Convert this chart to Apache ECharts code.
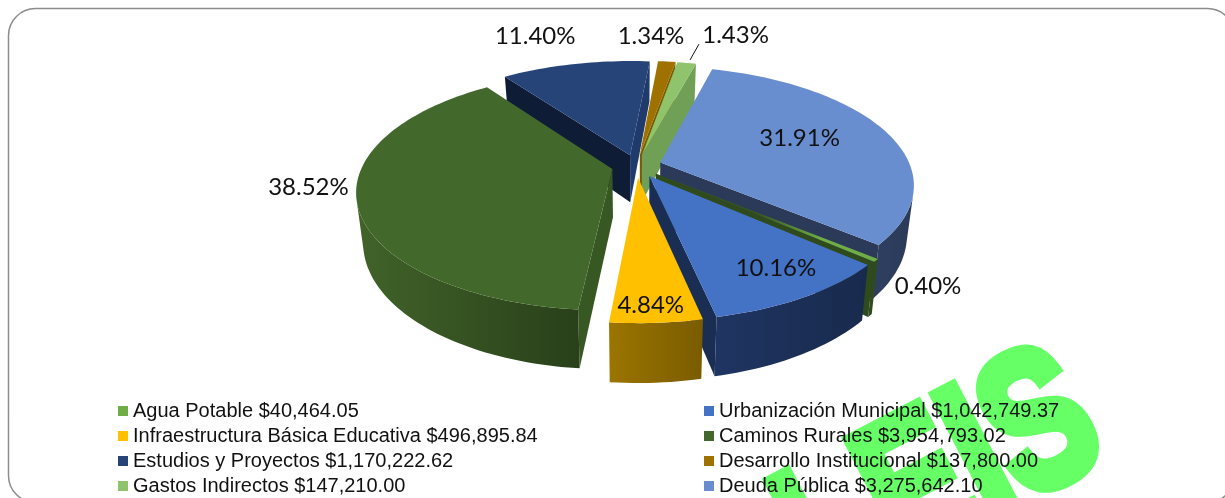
<!DOCTYPE html>
<html>
<head>
<meta charset="utf-8">
<style>html,body{margin:0;padding:0;background:#fff}#chart{width:1225px;height:498px}</style>
<script src="https://cdn.jsdelivr.net/npm/echarts@6/dist/echarts.min.js"></script>
</head>
<body>
<div id="chart"></div>
<script>
const categories = ['Agua Potable', 'Urbanización Municipal', 'Infraestructura Básica Educativa', 'Caminos Rurales',
  'Estudios y Proyectos', 'Desarrollo Institucional', 'Gastos Indirectos', 'Deuda Pública']
const amounts = [40464.05, 1042749.37, 496895.84, 3954793.02, 1170222.62, 137800.00, 147210.00, 3275642.10]
const amountLabels = ['$40,464.05', '$1,042,749.37', '$496,895.84', '$3,954,793.02', '$1,170,222.62', '$137,800.00', '$147,210.00', '$3,275,642.10']
const percentLabels = ['0.40%', '10.16%', '4.84%', '38.52%', '11.40%', '1.34%', '1.43%', '31.91%']

const legendNames = categories.map((c, i) => c + ' ' + amountLabels[i])

// styles, same order as categories
const topColors = ['#70AD47', '#4472C4', '#FFC000', '#43682B', '#264478', '#9E7100', '#8FC46C', '#698ED0']
const startWall = ['#2F4A1C', '#1A2E54', '#7A5C00', '#385823', '#0E1C36', '#7A5C00', '#5E8A44', '#2B3A58']
const endWall = ['#2F4A1C', '#1A2E54', '#8A6800', '#385823', '#1F3A6C', '#7A5C00', '#70A055', '#2B3A58']
const rimLeft = ['#2F4A1C', '#1F3562', '#9B7500', '#416329', '#1F3A6C', '#7A5C00', '#70A055', '#2F3F60']
const rimRight = ['#2F4A1C', '#182A4C', '#7A5C00', '#29401A', '#1F3A6C', '#7A5C00', '#70A055', '#2B3A58']
// label spot: distance from slice tip (1 = rim) and turn away from slice middle, degrees
const labelRadius = [1.218, 0.805, 0.897, 1.184, 1.414, 1.327, 1.425, 0.628]
const labelTurn = [1.3, -2, 0.7, 8, -4.6, -5, 7, -3.5]
// back to front
const drawOrder = [4, 5, 6, 7, 3, 0, 1, 2]

const view = { cx: 636.6, cy: 166, rx: 250, ry: 114.6, persp: 0.18, depth: 48, shrink: 0.975, explode: 0.1, startAngle: 130 }

const total = amounts.reduce((a, b) => a + b, 0)
function sliceAngles(i) {
  let before = 0
  for (let k = 0; k < i; k++) before += amounts[k]
  const a0 = view.startAngle + before / total * 360
  return [a0, a0 + amounts[i] / total * 360]
}
function dir(deg) {
  const t = deg * Math.PI / 180
  return [Math.sin(t), -Math.cos(t)]
}
function project(u, v, bottom) {
  const p = 1 / (1 - view.persp * v)
  const x = view.rx * u * p * (bottom ? view.shrink : 1)
  const y = view.ry * v * p + (bottom ? view.depth * p : 0)
  return [view.cx + x, view.cy + y]
}
function shoelace(pts) {
  let s = 0
  for (let i = 0; i < pts.length; i++) {
    const a = pts[i]
    const b = pts[(i + 1) % pts.length]
    s += a[0] * b[1] - b[0] * a[1]
  }
  return s
}
function poly(points, fill) {
  return { type: 'polygon', shape: { points: points }, style: { fill: fill, stroke: null }, silent: true }
}

function renderSlice(i) {
  const [a0, a1] = sliceAngles(i)
  const mid = (a0 + a1) / 2
  const md = dir(mid)
  const tip = [md[0] * view.explode, md[1] * view.explode]
  const at = (deg, r) => {
    const d = dir(deg)
    return [tip[0] + d[0] * r, tip[1] + d[1] * r]
  }
  const arc = []
  const n = Math.max(2, Math.ceil((a1 - a0) / 1.5))
  for (let k = 0; k <= n; k++) arc.push(at(a0 + (a1 - a0) * k / n, 1))

  const out = []
  const wall = (from, to, fill) => {
    const q = [project(from[0], from[1]), project(to[0], to[1]), project(to[0], to[1], true), project(from[0], from[1], true)]
    if (shoelace(q) < 0) out.push(poly(q, fill))
  }
  wall(tip, arc[0], startWall[i])
  wall(arc[n], tip, endWall[i])

  // only the part of the rim that faces us
  let run = []
  const flush = () => {
    if (run.length < 2) { run = []; return }
    const pts = run.map(p => project(p[0], p[1])).concat(run.slice().reverse().map(p => project(p[0], p[1], true)))
    out.push(poly(pts, {
      type: 'linear', x: 0, y: 0, x2: 1, y2: 0,
      colorStops: [{ offset: 0, color: rimLeft[i] }, { offset: 1, color: rimRight[i] }],
    }))
    run = []
  }
  for (let k = 0; k < n; k++) {
    const a = arc[k]
    const b = arc[k + 1]
    const q = [project(a[0], a[1]), project(b[0], b[1]), project(b[0], b[1], true), project(a[0], a[1], true)]
    if (shoelace(q) < 0) {
      if (!run.length) run.push(a)
      run.push(b)
    } else flush()
  }
  flush()

  // the thin Agua slice goes dark toward its tip
  const topFill = i === 0 ? {
    type: 'linear', x: 0, y: 0, x2: 1, y2: 0,
    colorStops: [{ offset: 0, color: '#35541F' }, { offset: 0.45, color: '#35541F' }, { offset: 0.75, color: '#70AD47' }, { offset: 1, color: '#70AD47' }],
  } : topColors[i]
  out.push(poly([project(tip[0], tip[1])].concat(arc.map(p => project(p[0], p[1]))), topFill))

  const lab = at(mid + labelTurn[i], labelRadius[i])
  const lp = project(lab[0], lab[1])
  out.push({
    type: 'text', z2: 20, silent: true,
    style: {
      x: lp[0], y: lp[1], text: percentLabels[i], fill: '#111', align: 'center', verticalAlign: 'middle',
      font: '24px Lato',
    },
  })
  // leader line of the small Gastos slice
  if (i === 6) {
    const r0 = at(mid + 0.5, 1.04)
    const r1 = at(mid + 0.7, 1.25)
    const p0 = project(r0[0], r0[1])
    const p1 = project(r1[0], r1[1])
    out.push({ type: 'line', z2: 20, silent: true, shape: { x1: p0[0], y1: p0[1], x2: p1[0], y2: p1[1] }, style: { stroke: '#111', lineWidth: 1 } })
  }
  return { type: 'group', children: out }
}

const legendBase = {
  orient: 'vertical', top: 396, height: 200, itemWidth: 10, itemHeight: 10, itemGap: 5, icon: 'rect', selectedMode: false,
  textStyle: { fontFamily: 'Liberation Sans', fontSize: 20, color: '#111' },
}

const chart = echarts.init(document.getElementById('chart'))
chart.setOption({
  animation: false,
  graphic: [
    {
      type: 'rect', z: 0, shape: { x: 8.5, y: 8.5, width: 1226, height: 494, r: 27 },
      style: { fill: '#fff', stroke: '#8C8C8C', lineWidth: 1.5 }, silent: true,
    },
    {
      type: 'text', z: 1, x: 1086, y: 408, rotation: 0.48, scaleX: 0.75, silent: true,
      style: { text: 'LEIS', fill: '#66FF66', stroke: '#66FF66', lineWidth: 13, font: 'bold 195px "Liberation Sans"', align: 'right', verticalAlign: 'middle' },
    },
  ],
  legend: [
    Object.assign({}, legendBase, { left: 113, data: legendNames.filter((n, i) => i % 2 === 0) }),
    Object.assign({}, legendBase, { left: 699, data: legendNames.filter((n, i) => i % 2 === 1) }),
  ],
  series: drawOrder.map((i, order) => ({
    type: 'custom',
    name: legendNames[i],
    coordinateSystem: 'none',
    silent: true,
    z: 5 + order,
    itemStyle: { color: topColors[i] },
    data: [amounts[i]],
    renderItem: () => renderSlice(i),
  })),
})
</script>
</body>
</html>
